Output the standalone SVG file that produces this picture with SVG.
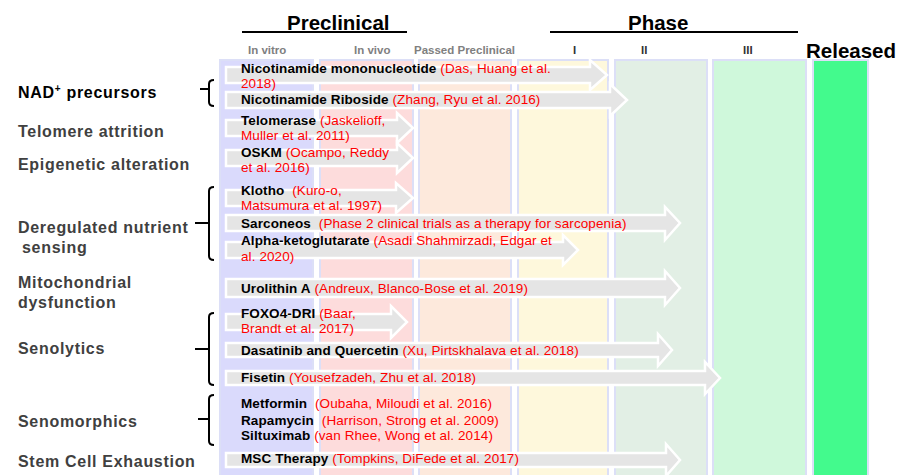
<svg xmlns="http://www.w3.org/2000/svg" width="900" height="475" viewBox="0 0 900 475">
<style>
text{font-family:"Liberation Sans",Arial,sans-serif}
.hd{font-size:20.5px;font-weight:bold;fill:#000}
.sh{font-size:11.5px;font-weight:bold;fill:#808080}
.ph{font-size:11.5px;font-weight:bold;fill:#333}
.lab{font-size:16px;font-weight:bold;fill:#404040;letter-spacing:0.7px}
.it{font-size:13.5px;letter-spacing:0.1px}
.b{font-weight:bold;fill:#000}
.r{fill:#ff0000}
.col{stroke:#dcdff7;stroke-width:2}
.arr{fill:#e5e5e5;stroke:#fff;stroke-width:2.5;stroke-linejoin:miter}
.br{fill:none;stroke:#000;stroke-width:2}
.ul{stroke:#000;stroke-width:2}
</style>
<rect width="900" height="475" fill="#fff"/>
<g id="columns">
<rect class="col" x="220" y="60" width="93" height="420" fill="#dadafc"/>
<rect class="col" x="320" y="60" width="93" height="420" fill="#fddcdc"/>
<rect class="col" x="419" y="60" width="92" height="420" fill="#fde9dc"/>
<rect class="col" x="518" y="60" width="90" height="420" fill="#fef8dc"/>
<rect class="col" x="615" y="60" width="92" height="420" fill="#e2efe5"/>
<rect class="col" x="713" y="60" width="93" height="420" fill="#cff8db"/>
<rect class="col" x="813" y="60" width="55" height="420" fill="#43fa8d"/>
</g>
<g id="headers">
<text class="hd" x="287" y="30">Preclinical</text>
<line class="ul" x1="242" y1="32" x2="407" y2="32"/>
<text class="hd" x="628" y="30">Phase</text>
<line class="ul" x1="550" y1="32" x2="798" y2="32"/>
<text class="hd" x="806" y="58">Released</text>
<text class="sh" x="248" y="54">In vitro</text>
<text class="sh" x="354" y="54">In vivo</text>
<text class="sh" x="414" y="54">Passed Preclinical</text>
<text class="ph" x="573" y="54">I</text>
<text class="ph" x="641" y="54">II</text>
<text class="ph" x="743" y="54">III</text>
</g>
<g id="bars">
<polygon class="arr" points="226,67 590,67 590,60 607,75 590,90 590,83 226,83"/>
<polygon class="arr" points="226,92 610,92 610,84 627,100 610,116 610,108 226,108"/>
<polygon class="arr" points="226,120 397,120 397,113 413,128 397,143 397,136 226,136"/>
<polygon class="arr" points="226,150 397,150 397,143 413,158 397,173 397,166 226,166"/>
<polygon class="arr" points="226,190 396,190 396,183 413,198 396,213 396,206 226,206"/>
<polygon class="arr" points="226,215 665,215 665,207 680,223 665,240 665,231 226,231"/>
<polygon class="arr" points="226,242 563,242 563,235 578,250 563,265 563,258 226,258"/>
<polygon class="arr" points="226,279 665,279 665,271 680,288 665,305 665,297 226,297"/>
<polygon class="arr" points="226,314 391,314 391,306 407,322 391,338 391,330 226,330"/>
<polygon class="arr" points="226,343 658,343 658,334 672,350 658,366 658,357 226,357"/>
<polygon class="arr" points="226,371 705,371 705,362 720,378 705,394 705,385 226,385"/>
<polygon class="arr" points="226,453 666,453 666,444 680,460 666,476 666,467 226,467"/>
</g>
<g id="connectors">
<path class="br" d="M214,80 Q209,80 209,84 L209,102 Q209,106 214,106 M200,89 L209,89"/>
<path class="br" d="M214,187 Q209,187 209,191 L209,256 Q209,260 214,260 M195,223 L209,223"/>
<path class="br" d="M214,313 Q209,313 209,317 L209,381 Q209,385 214,385 M195,349 L209,349"/>
<path class="br" d="M214,395 Q209,395 209,399 L209,441 Q209,445 214,445 M198,419 L209,419"/>
</g>
<g id="cat-nad"><text class="lab" x="18" y="98" style="fill:#000">NAD<tspan font-size="10" dy="-6">+</tspan><tspan dy="6"> precursors</tspan></text></g>
<g id="cat-telomere"><text class="lab" x="18" y="137">Telomere attrition</text></g>
<g id="cat-epigenetic"><text class="lab" x="18" y="170">Epigenetic alteration</text></g>
<g id="cat-nutrient"><text class="lab" x="18" y="233">Deregulated nutrient</text><text class="lab" x="22" y="253">sensing</text></g>
<g id="cat-mito"><text class="lab" x="18" y="288">Mitochondrial</text><text class="lab" x="18" y="308">dysfunction</text></g>
<g id="cat-senolytics"><text class="lab" x="18" y="354">Senolytics</text></g>
<g id="cat-senomorphics"><text class="lab" x="18" y="427">Senomorphics</text></g>
<g id="cat-stem"><text class="lab" x="18" y="467">Stem Cell Exhaustion</text></g>
<g id="nmn"><text class="it" x="241" y="73"><tspan class="b">Nicotinamide mononucleotide</tspan> <tspan class="r">(Das, Huang et al.</tspan></text><text class="it r" x="241" y="88">2018)</text></g>
<g id="nr"><text class="it" x="241" y="104"><tspan class="b">Nicotinamide Riboside</tspan> <tspan class="r">(Zhang, Ryu et al. 2016)</tspan></text></g>
<g id="telomerase"><text class="it" x="241" y="125"><tspan class="b">Telomerase</tspan> <tspan class="r">(Jaskelioff,</tspan></text><text class="it r" x="241" y="140">Muller et al. 2011)</text></g>
<g id="oskm"><text class="it" x="241" y="157"><tspan class="b">OSKM</tspan> <tspan class="r">(Ocampo, Reddy</tspan></text><text class="it r" x="241" y="172">et al. 2016)</text></g>
<g id="klotho"><text class="it" x="241" y="195"><tspan class="b">Klotho</tspan> <tspan class="r" dx="4">(Kuro-o,</tspan></text><text class="it r" x="241" y="210">Matsumura et al. 1997)</text></g>
<g id="sarconeos"><text class="it" x="241" y="228"><tspan class="b">Sarconeos</tspan> <tspan class="r" dx="4">(Phase 2 clinical trials as a therapy for sarcopenia)</tspan></text></g>
<g id="akg"><text class="it" x="241" y="245"><tspan class="b">Alpha-ketoglutarate</tspan> <tspan class="r">(Asadi Shahmirzadi, Edgar et</tspan></text><text class="it r" x="241" y="261">al. 2020)</text></g>
<g id="urolithin"><text class="it" x="241" y="293"><tspan class="b">Urolithin A</tspan> <tspan class="r">(Andreux, Blanco-Bose et al. 2019)</tspan></text></g>
<g id="foxo4"><text class="it" x="241" y="318"><tspan class="b">FOXO4-DRI</tspan> <tspan class="r">(Baar,</tspan></text><text class="it r" x="241" y="333">Brandt et al. 2017)</text></g>
<g id="dq"><text class="it" x="241" y="355"><tspan class="b">Dasatinib and Quercetin</tspan> <tspan class="r">(Xu, Pirtskhalava et al. 2018)</tspan></text></g>
<g id="fisetin"><text class="it" x="241" y="382"><tspan class="b">Fisetin</tspan> <tspan class="r">(Yousefzadeh, Zhu et al. 2018)</tspan></text></g>
<g id="metformin"><text class="it" x="241" y="408"><tspan class="b">Metformin</tspan> <tspan class="r" dx="4">(Oubaha, Miloudi et al. 2016)</tspan></text></g>
<g id="rapamycin"><text class="it" x="241" y="425"><tspan class="b">Rapamycin</tspan> <tspan class="r" dx="4">(Harrison, Strong et al. 2009)</tspan></text></g>
<g id="siltuximab"><text class="it" x="241" y="440"><tspan class="b">Siltuximab</tspan> <tspan class="r">(van Rhee, Wong et al. 2014)</tspan></text></g>
<g id="msc"><text class="it" x="241" y="463"><tspan class="b">MSC Therapy</tspan> <tspan class="r">(Tompkins, DiFede et al. 2017)</tspan></text></g>
</svg>
